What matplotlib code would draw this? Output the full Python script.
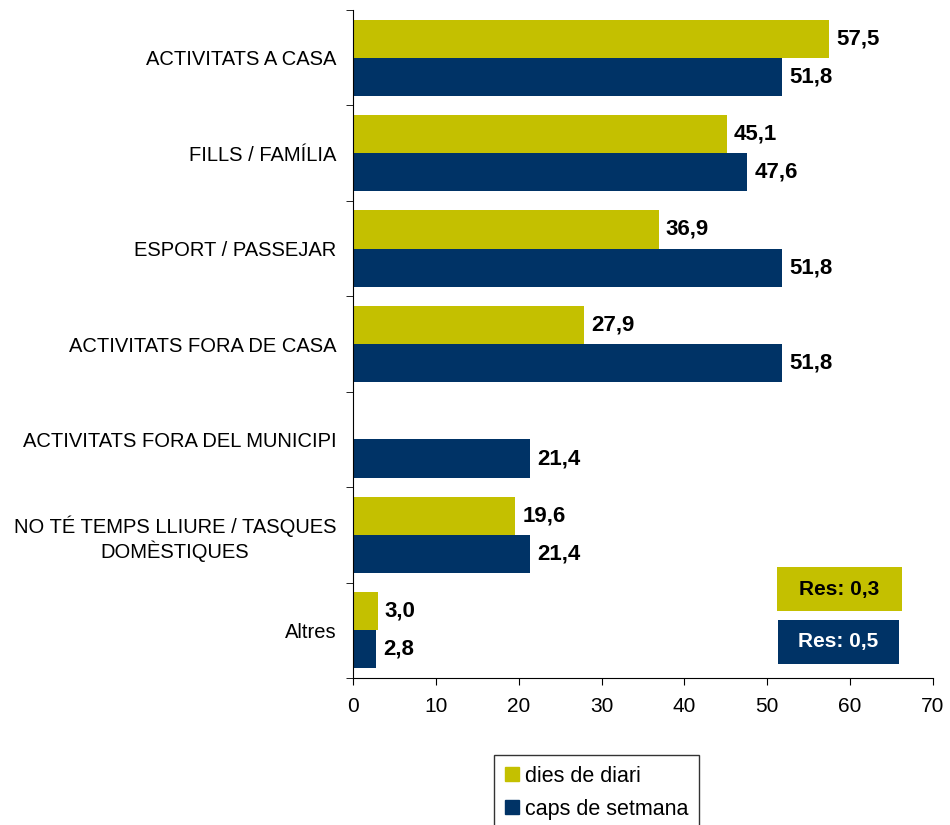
import matplotlib
matplotlib.use("Agg")
import matplotlib.pyplot as plt
import numpy as np
from matplotlib.patches import Patch, Rectangle

plt.rcParams['font.family'] = ['Liberation Sans', 'DejaVu Sans']

categories = ["ACTIVITATS A CASA", "FILLS / FAMÍLIA", "ESPORT / PASSEJAR",
              "ACTIVITATS FORA DE CASA", "ACTIVITATS FORA DEL MUNICIPI",
              "NO TÉ TEMPS LLIURE / TASQUES\nDOMÈSTIQUES", "Altres"]
dies_diari = [57.5, 45.1, 36.9, 27.9, np.nan, 19.6, 3.0]
caps_setmana = [51.8, 47.6, 51.8, 51.8, 21.4, 21.4, 2.8]
x_ticks = [0, 10, 20, 30, 40, 50, 60, 70]

YELLOW = "#C4C000"
NAVY = "#003366"
W, H = 950, 825

fig = plt.figure(figsize=(9.5, 8.25), dpi=100)
ax = fig.add_axes([353 / W, 1 - 678 / H, 580 / W, 668 / H])

n = len(categories)
y = np.arange(n)
h = 0.4
ax.barh(y - h / 2, dies_diari, height=h, color=YELLOW, label="dies de diari")
ax.barh(y + h / 2, caps_setmana, height=h, color=NAVY, label="caps de setmana")

for yi, v in zip(y, dies_diari):
    if not np.isnan(v):
        ax.text(v + 0.85, yi - h / 2, f"{v:.1f}".replace(".", ","), va="center",
                ha="left", fontsize=16, fontweight="bold")
for yi, v in zip(y, caps_setmana):
    ax.text(v + 0.85, yi + h / 2, f"{v:.1f}".replace(".", ","), va="center",
            ha="left", fontsize=16, fontweight="bold")

ax.set_ylim(n - 0.5, -0.5)
ax.set_xlim(0, 70)
ax.set_xticks(x_ticks)
ax.tick_params(axis="x", labelsize=15, length=5, pad=9)
ax.set_yticks(y)
ax.set_yticklabels(categories, fontsize=14.5)
ax.tick_params(axis="y", which="major", length=0, pad=12)
ax.set_yticks(np.arange(n + 1) - 0.5, minor=True)
ax.tick_params(axis="y", which="minor", length=5)
for lbl in ax.get_yticklabels():
    lbl.set_multialignment("center")
for s in ["top", "right"]:
    ax.spines[s].set_visible(False)

# residual boxes
fig.patches.append(Rectangle((777 / W, 1 - 611 / H), 125 / W, 44 / H,
                             transform=fig.transFigure, fc=YELLOW, ec="none"))
fig.patches.append(Rectangle((778 / W, 1 - 664 / H), 121 / W, 44 / H,
                             transform=fig.transFigure, fc=NAVY, ec="none"))
fig.text(839.5 / W, 1 - 589 / H, "Res: 0,3", ha="center", va="center",
         fontsize=15, fontweight="bold", color="black")
fig.text(838.5 / W, 1 - 642 / H, "Res: 0,5", ha="center", va="center",
         fontsize=15, fontweight="bold", color="white")

handles = [Patch(color=YELLOW, label="dies de diari"),
           Patch(color=NAVY, label="caps de setmana")]
leg = fig.legend(handles=handles, loc="upper left",
                 bbox_to_anchor=(494 / W, 1 - 755 / H), fontsize=15.5,
                 frameon=True, fancybox=False, edgecolor="black",
                 handlelength=0.65, handleheight=0.65, handletextpad=0.3,
                 borderpad=0.5, labelspacing=0.55, borderaxespad=0)
leg.get_frame().set_linewidth(1.0)

fig.savefig("out.png", dpi=100)
